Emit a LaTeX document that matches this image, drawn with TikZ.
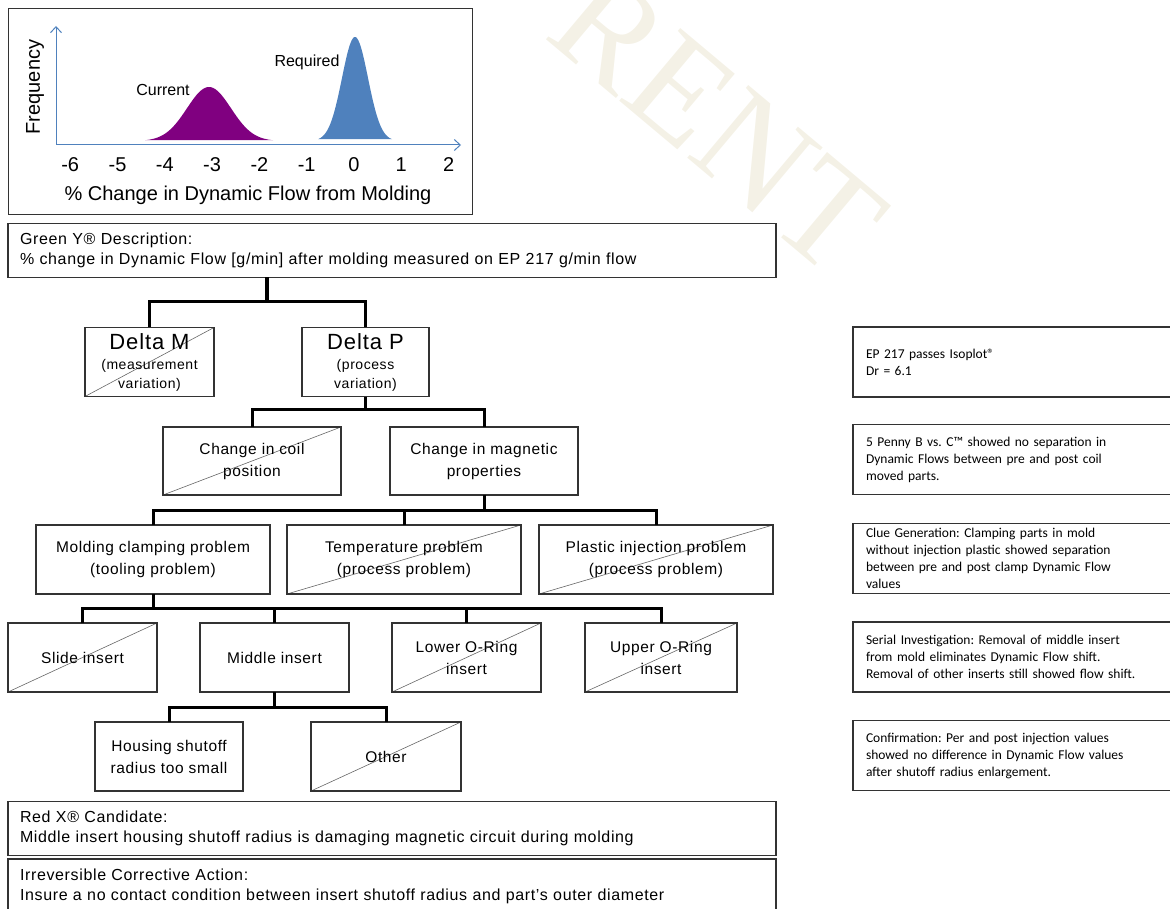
\documentclass[tikz,border=0pt]{standalone}
\usepackage{fontspec}
\setmainfont[LetterSpace=4]{Liberation Sans}
\newfontfamily\chartfont{Liberation Sans}
\newfontfamily\notefont{Carlito}
\newfontfamily\markfont{Liberation Serif}
\usetikzlibrary{positioning,arrows.meta}
\definecolor{CurveBlue}{HTML}{4F81BD}
\definecolor{CurvePurple}{HTML}{800080}
\definecolor{MarkTint}{HTML}{F4F1E6}
\definecolor{FrameGray}{HTML}{333333}

\begin{document}
\frenchspacing
\begin{tikzpicture}[
  x=1pt,y=-1pt,
  node distance=43pt,
  box/.style={draw=FrameGray,line width=1.2pt,inner sep=0pt,outer sep=0pt,align=center,minimum height=69pt,font=\fontsize{15.5}{22}\selectfont},
  crossed/.style={box,path picture={\draw[gray!80!black,line width=0.6pt] (path picture bounding box.south west) -- (path picture bounding box.north east);}},
  wide/.style={draw=FrameGray,line width=1.2pt,outer sep=0pt,inner xsep=12pt,inner ysep=0pt,minimum height=54pt,text width=744pt,align=left,font=\fontsize{16}{20}\selectfont},
  note/.style={draw=FrameGray,line width=1.2pt,outer sep=0pt,inner xsep=13pt,inner ysep=0pt,minimum height=70pt,text width=300pt,align=left,anchor=west,font=\notefont\fontsize{13.5}{17}\selectfont},
  conn/.style={line width=3pt},
  axis/.style={CurveBlue,line width=1pt,-{Straight Barb[length=6pt,width=11pt]}},
  tick/.style={font=\chartfont\fontsize{20}{20}\selectfont},
  curvelbl/.style={font=\chartfont\fontsize{16}{16}\selectfont}
]
\useasboundingbox (0,0) rectangle (1170,909);

% watermark
\node[rotate=-40,text=MarkTint,font=\markfont\fontsize{145}{145}\selectfont] (mark) at (718,122) {RENT};

% distribution chart
\node[draw=FrameGray,line width=0.8pt,minimum width=464pt,minimum height=206pt,inner sep=0pt] (chart) at (240,111) {};
\coordinate (origin) at (56,145);
\coordinate (ytop) at (56,26);
\coordinate (xend) at (461,145);
\fill[CurvePurple] plot[domain=-64:64,samples=80,smooth] ({209+\x},{141-54*exp(-0.5*(\x/22)^2)}) -- cycle;
\fill[CurveBlue] plot[domain=-37:37,samples=80,smooth] ({355+\x},{141-104*exp(-0.5*(\x/13)^2)}) -- cycle;
\draw[axis] (origin) -- (ytop);
\draw[axis] (origin) -- (xend);
\foreach \v in {-6,...,2}
  \node[tick] (t\v) at ({354+47.3*\v},165) {\v};
\node[tick] (xlabel) at (248,195) {\% Change in Dynamic Flow from Molding};
\node[tick,rotate=90] (ylabel) at (35,87) {Frequency};
\node[curvelbl] (current) at (163,90) {Current};
\node[curvelbl] (required) at (307,62) {Required};

% tree
\node[wide] (greeny) at (392,250.5) {Green Y® Description:\\\% change in Dynamic Flow [g/min] after molding measured on EP 217 g/min flow};
\node[crossed,minimum width=129pt] (deltam) at (149.5,362) {{\fontsize{22}{24}\selectfont Delta M}\\[-2pt]{\fontsize{14}{18}\selectfont (measurement}\\[-3pt]{\fontsize{14}{18}\selectfont variation)}};
\node[box,minimum width=127pt] (deltap) at (365.5,362) {{\fontsize{22}{24}\selectfont Delta P}\\[-2pt]{\fontsize{14}{18}\selectfont (process}\\[-3pt]{\fontsize{14}{18}\selectfont variation)}};

\node[crossed,minimum width=178pt,minimum height=68pt] (coil) at (252,461) {Change in coil\\position};
\node[box,minimum width=188pt,minimum height=68pt] (magn) at (484,461) {Change in magnetic\\properties};

\node[box,minimum width=234pt] (clamp) at (153,559.5) {Molding clamping problem\\(tooling problem)};
\node[crossed,minimum width=234pt,right=17pt of clamp] (temp) {Temperature problem\\(process problem)};
\node[crossed,minimum width=234pt,right=18pt of temp] (plastic) {Plastic injection problem\\(process problem)};

\node[crossed,minimum width=149pt] (slide) at (82.5,657.5) {Slide insert};
\node[box,minimum width=149pt,right=of slide] (middle) {Middle insert};
\node[crossed,minimum width=149pt,right=of middle] (lower) {Lower O-Ring\\insert};
\node[crossed,minimum width=152pt,right=44pt of lower] (upper) {Upper O-Ring\\insert};

\node[box,minimum width=148pt] (housing) at (169,756.5) {Housing shutoff\\radius too small};
\node[crossed,minimum width=150pt,right=68pt of housing] (other) {Other};

\node[wide] (redx) at (392,828.5) {Red X® Candidate:\\Middle insert housing shutoff radius is damaging magnetic circuit during molding};
\node[wide,minimum height=55pt] (action) at (392,886.5) {Irreversible Corrective Action:\\Insure a no contact condition between insert shutoff radius and part's outer diameter};

% connectors
\coordinate (j1) at (267,302);
\draw[conn,line width=3.6pt] (greeny.south -| j1) -- (j1);
\draw[conn] (deltam.north) |- (j1) -| (deltap.north);
\draw[conn] (deltap.south) -- ++(0,13) coordinate (j2);
\draw[conn] (coil.north) |- (j2) -| (magn.north);
\draw[conn] (magn.south) -- ++(0,15) coordinate (j3);
\draw[conn] (clamp.north) |- (j3) -| (plastic.north);
\draw[conn] (temp.north) -- (temp.north |- j3);
\draw[conn] (clamp.south) -- ++(0,14) coordinate (j4);
\draw[conn] (slide.north) |- (j4) -| (upper.north);
\draw[conn] (middle.north) -- (middle.north |- j4);
\draw[conn] (lower.north) -- (lower.north |- j4);
\draw[conn] (middle.south) -- ++(0,15) coordinate (j5);
\draw[conn] (housing.north) |- (j5) -| (other.north);

% findings
\node[note] (isoplot) at (853,362) {EP 217 passes Isoplot®\\Dr = 6.1};
\node[note] (penny) at (853,459.5) {5 Penny B vs. C™ showed no separation in\\Dynamic Flows between pre and post coil\\moved parts.};
\node[note] (clue) at (853,558.5) {Clue Generation: Clamping parts in mold\\without injection plastic showed separation\\between pre and post clamp Dynamic Flow\\values};
\node[note] (serial) at (853,657) {Serial Investigation: Removal of middle insert\\from mold eliminates Dynamic Flow shift.\\Removal of other inserts still showed flow shift.};
\node[note] (confirm) at (853,755.5) {Confirmation: Per and post injection values\\showed no difference in Dynamic Flow values\\after shutoff radius enlargement.};
\end{tikzpicture}
\end{document}
